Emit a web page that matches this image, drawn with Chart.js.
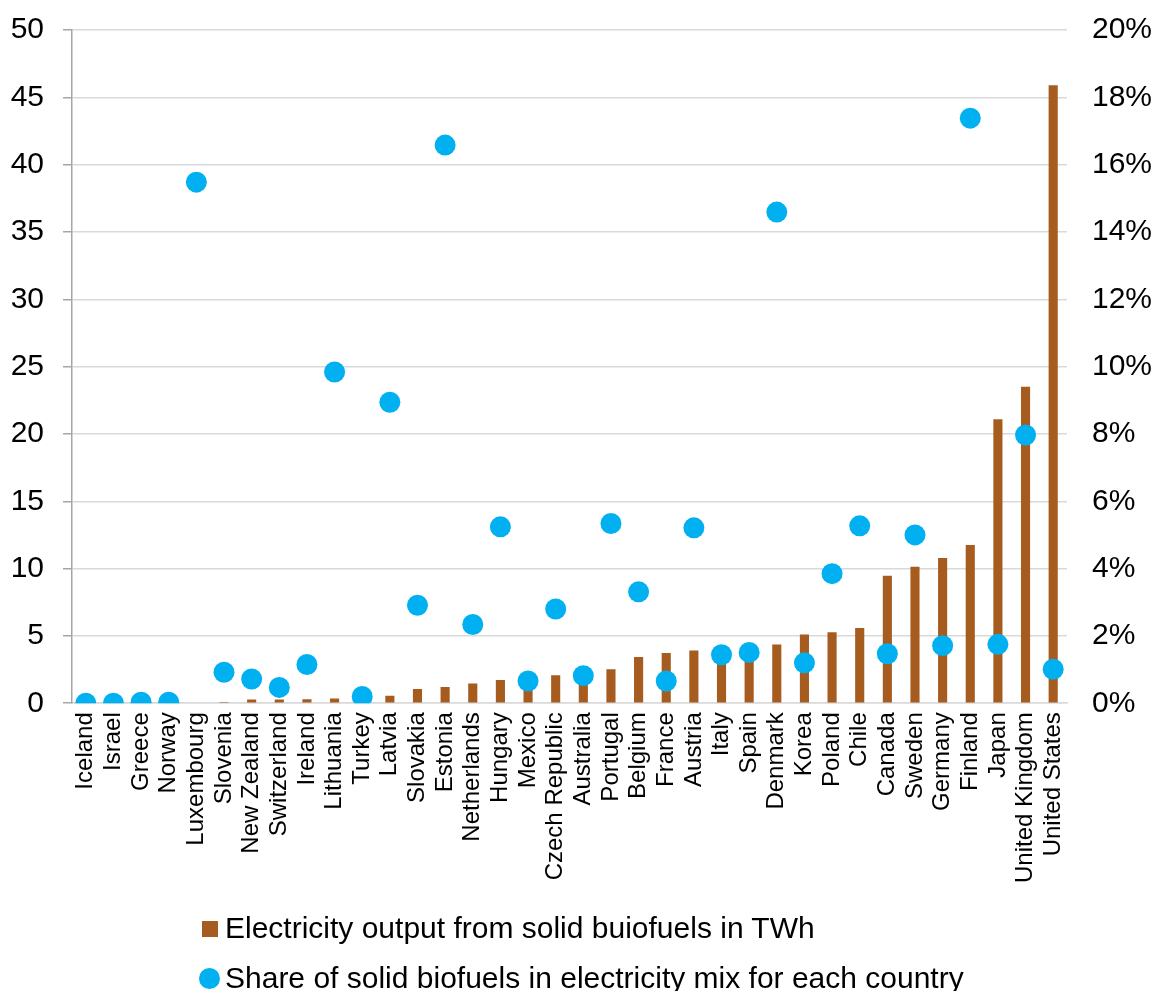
<!DOCTYPE html>
<html>
<head>
<meta charset="utf-8">
<script src="https://cdn.jsdelivr.net/npm/chart.js@4/dist/chart.umd.min.js"></script>
<style>
  html, body { margin: 0; padding: 0; background: #ffffff; }
  #wrap { position: relative; width: 1154px; height: 991px; overflow: hidden; }
  #c { position: absolute; left: 0; top: 0; }
  .leg { position: absolute; left: 0; font-family: "Liberation Sans", Arial, sans-serif; font-size: 30px; color: #000; white-space: nowrap; }
  .leg span.t { position: absolute; left: 225px; top: 0; line-height: 34px; }
  .sq { position: absolute; left: 202px; width: 16px; height: 16px; background: #A65B1F; }
  .ci { position: absolute; left: 199px; width: 21px; height: 21px; border-radius: 50%; background: #00B0F0; }
</style>
</head>
<body>
<div id="wrap">
  <canvas id="c" width="1154" height="991"></canvas>
  <div class="leg" style="top:911px;"><div class="sq" style="top:10px;"></div><span class="t">Electricity output from solid buiofuels in TWh</span></div>
  <div class="leg" style="top:961px;"><div class="ci" style="top:7px;"></div><span class="t">Share of solid biofuels in electricity mix for each country</span></div>
</div>
<script>
const countries = ["Iceland","Israel","Greece","Norway","Luxembourg","Slovenia","New Zealand","Switzerland","Ireland","Lithuania","Turkey","Latvia","Slovakia","Estonia","Netherlands","Hungary","Mexico","Czech Republic","Australia","Portugal","Belgium","France","Austria","Italy","Spain","Denmark","Korea","Poland","Chile","Canada","Sweden","Germany","Finland","Japan","United Kingdom","United States"];

const outputTWh = [0,0,0,0,0.05,0.1,0.27,0.27,0.3,0.35,0.45,0.55,1.05,1.2,1.46,1.73,1.9,2.08,2.3,2.53,3.44,3.74,3.92,4.0,4.2,4.36,5.1,5.28,5.58,9.46,10.13,10.78,11.75,21.1,23.5,45.9];

const sharePct = [0,0,0.03,0.03,15.48,0.92,0.72,0.47,1.15,9.84,0.2,8.94,2.91,16.58,2.34,5.24,0.66,2.8,0.82,5.34,3.31,0.66,5.21,1.44,1.51,14.59,1.2,3.85,5.27,1.47,5.0,1.71,17.38,1.75,7.97,1.01];

const leftTicks = [0,5,10,15,20,25,30,35,40,45,50];
const rightTicks = [0,2,4,6,8,10,12,14,16,18,20];

const labelBar = "Electricity output from solid buiofuels in TWh";
const labelDot = "Share of solid biofuels in electricity mix for each country";

const FONT = "'Liberation Sans', Arial, sans-serif";

new Chart(document.getElementById('c'), {
  data: {
    labels: countries,
    datasets: [
      {
        type: 'line',
        label: labelDot,
        data: sharePct,
        yAxisID: 'y1',
        showLine: false,
        pointRadius: 10.5,
        pointHoverRadius: 10.5,
        pointBackgroundColor: '#00B0F0',
        pointBorderWidth: 0,
        borderColor: '#00B0F0',
        order: 0
      },
      {
        type: 'bar',
        label: labelBar,
        data: outputTWh,
        yAxisID: 'y',
        backgroundColor: '#A65B1F',
        barPercentage: 0.33,
        categoryPercentage: 1.0,
        order: 1
      }
    ]
  },
  options: {
    responsive: false,
    animation: false,
    devicePixelRatio: 1,
    layout: { padding: { left: 11, right: 3, top: 30, bottom: 99 } },
    plugins: { legend: { display: false }, tooltip: { enabled: false } },
    scales: {
      x: {
        grid: { display: false, drawTicks: false },
        border: { display: true, color: '#D9D9D9', width: 1.5 },
        ticks: {
          autoSkip: false, minRotation: 90, maxRotation: 90, padding: 9,
          color: '#000', font: { family: FONT, size: 24 }
        }
      },
      y: {
        position: 'left',
        min: 0, max: 50,
        afterBuildTicks: (axis) => { axis.ticks = leftTicks.map(v => ({ value: v })); },
        afterFit: (axis) => { axis.width = 61; axis.paddingTop = 15; axis.paddingBottom = 15; },
        grid: { color: '#D9D9D9', lineWidth: 1.5, tickLength: 9, tickColor: '#A6A6A6' },
        border: { display: true, color: '#A6A6A6', width: 1.5 },
        ticks: { padding: 19, color: '#000', font: { family: FONT, size: 30 } }
      },
      y1: {
        position: 'right',
        min: 0, max: 20,
        afterBuildTicks: (axis) => { axis.ticks = rightTicks.map(v => ({ value: v })); },
        afterFit: (axis) => { axis.width = 84; axis.paddingTop = 15; axis.paddingBottom = 15; },
        grid: { display: false, drawTicks: false },
        border: { display: false },
        ticks: { padding: 25, color: '#000', font: { family: FONT, size: 30 }, callback: (v) => v + '%' }
      }
    }
  }
});
</script>
</body>
</html>
